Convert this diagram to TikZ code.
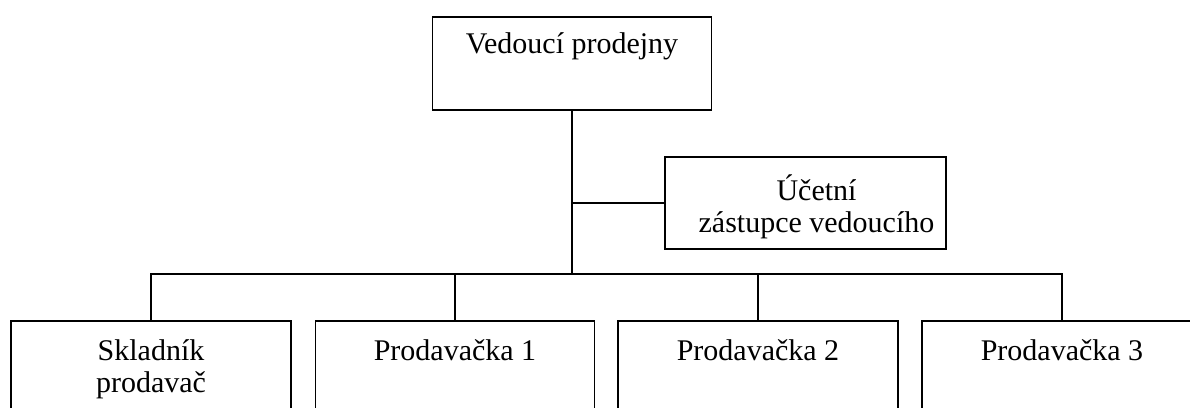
\documentclass[tikz,border=0pt]{standalone}
\usepackage{fontspec}
\setmainfont{Liberation Serif}
\newcommand{\boxtext}[4]{\parbox[c][#2][t]{#1}{\centering\rule{0pt}{#3}#4}}
\tikzset{
	orgbox/.style={draw=black, line width=1.2pt, inner sep=0pt, font=\fontsize{30}{32}\selectfont},
	orgline/.style={draw=black, line width=1.8pt}
}
\begin{document}
\begin{tikzpicture}[x=1pt, y=-1pt]
		\useasboundingbox (0,0) rectangle (1190,407);
		\clip (0,0) rectangle (1190,407);
		\node[orgbox] (VP) at (572,63.5) {\boxtext{279pt}{93pt}{36pt}{Vedoucí prodejny}};
		\node[orgbox] (UC) at (805.5,203) {\boxtext{281pt}{92pt}{43pt}{\hspace*{22pt}Účetní\\\hspace*{22pt}zástupce vedoucího}};
		\node[orgbox] (SK) at (151,367.5) {\boxtext{280pt}{93pt}{39pt}{Skladník\\prodavač}};
		\node[orgbox] (PA) at (455,367.5) {\boxtext{279pt}{93pt}{39pt}{Prodavačka 1}};
		\node[orgbox] (PB) at (758,367.5) {\boxtext{280pt}{93pt}{39pt}{Prodavačka 2}};
		\node[orgbox] (PC) at (1062,367.5) {\boxtext{280pt}{93pt}{39pt}{Prodavačka 3}};
		\coordinate (BUS) at (572,274);

		\draw[orgline] (VP.south) -- (BUS);
		\draw[orgline] (UC.west) -- (UC.west -| BUS);
		\draw[orgline] (SK.north) |- (BUS) -| (PC.north);
		\draw[orgline] (PA.north) -- (PA.north |- BUS);
		\draw[orgline] (PB.north) -- (PB.north |- BUS);
\end{tikzpicture}
\end{document}
